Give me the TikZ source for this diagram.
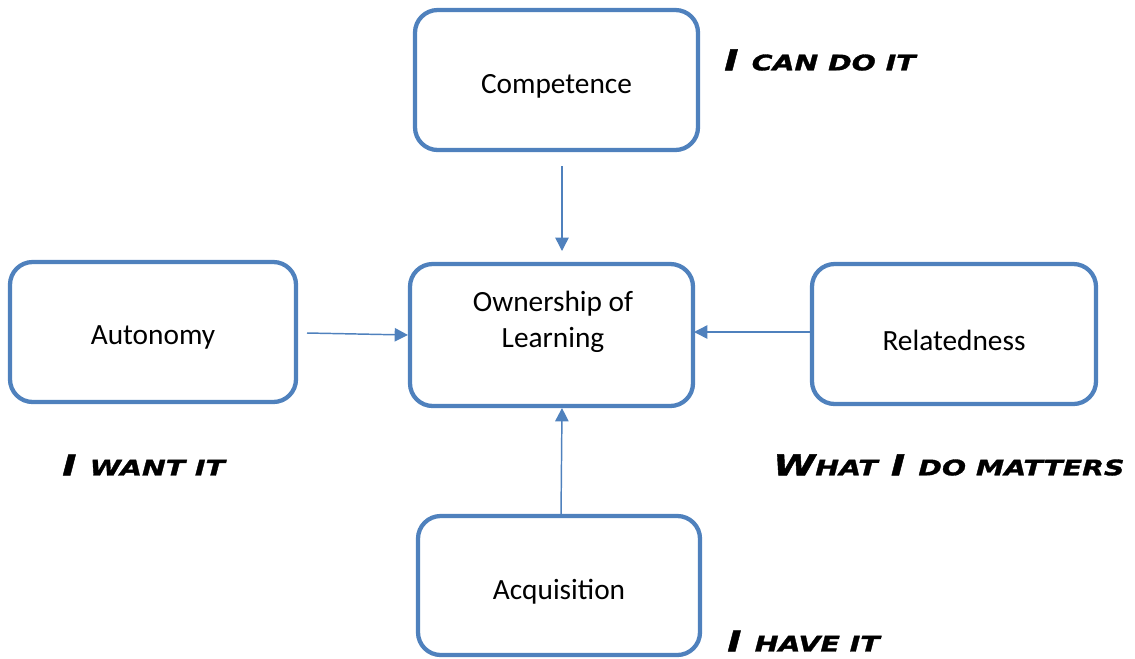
\documentclass[tikz,border=0pt]{standalone}
\usepackage{fontspec}
\setmainfont{Carlito}
\newfontfamily\labfont[FakeStretch=1.33,FakeBold=1.5]{DejaVu Sans}
\usetikzlibrary{arrows.meta}
\definecolor{boxblue}{HTML}{4F81BD}
\tikzset{
  x=0.75pt, y=-0.75pt,
  box/.style={draw=boxblue, line width=3.2pt, rounded corners=17pt, fill=white},
  btext/.style={font=\fontsize{22}{27}\selectfont, align=center},
  lab/.style={font=\labfont\bfseries\itshape\fontsize{21.5}{24}\selectfont, anchor=west, inner sep=0pt},
  conn/.style={draw=boxblue, line width=1.1pt, -{Triangle[length=10pt,width=10pt]}}
}
\newcommand{\sm}[1]{{\fontsize{16}{18}\selectfont #1}}
\begin{document}
\begin{tikzpicture}
\useasboundingbox (0,0) rectangle (1135,658);
% boxes
\draw[box] (415,10) rectangle (698,150);
\node[btext] (comp) at (556.5,86) {Competence};
\draw[box] (410,264) rectangle (693,406);
\node[btext] (own) at (553,322) {Ownership of\\Learning};
\draw[box] (10,262) rectangle (296,402);
\node[btext] (auto) at (153,337) {Autonomy};
\draw[box] (812,264) rectangle (1096,404);
\node[btext] (rel) at (954,340) {Relatedness};
\draw[box] (418,516) rectangle (700,655);
\node[btext] (acq) at (559,592) {Acquisition};
% connector anchors
\coordinate (c1) at (562,166); \coordinate (c2) at (562,251);
\coordinate (a1) at (307,333); \coordinate (a2) at (408,335);
\coordinate (r1) at (812,332); \coordinate (r2) at (694,332);
\coordinate (q1) at (561,516); \coordinate (q2) at (562,408);
\draw[conn] (c1) -- (c2);
\draw[conn] (a1) -- (a2);
\draw[conn] (r1) -- (r2);
\draw[conn] (q1) -- (q2);
% labels
\node[lab] (l1) at (724,60) {I \sm{CAN DO IT}};
\node[lab] (l2) at (62,465) {I \sm{WANT IT}};
\node[lab] (l3) at (773,465) {W\sm{HAT} I \sm{DO MATTERS}};
\node[lab] (l4) at (727,641) {I \sm{HAVE IT}};
\end{tikzpicture}
\end{document}
